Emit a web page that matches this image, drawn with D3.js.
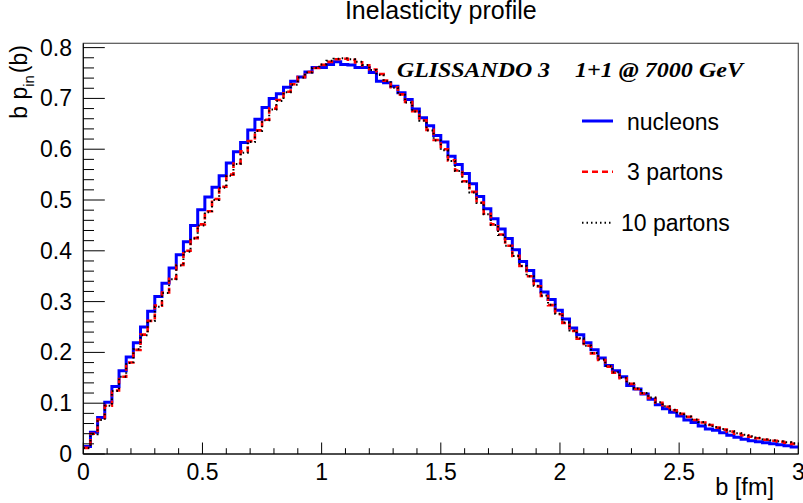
<!doctype html>
<html>
<head>
<meta charset="utf-8">
<title>Inelasticity profile</title>
<script type="text/javascript" src="https://d3js.org/d3.v7.min.js"></script>
<style>
  body { margin: 0; background: #fff; }
  text { font-family: "Liberation Sans", Arial, sans-serif; fill: #000; }
</style>
</head>
<body>
<script type="text/javascript">

    // histogram binning: 100 bins on b = 0 .. 3 fm
    var nBins = 100;
    var bMin = 0, bMax = 3;
    var yTop = 0.8085;

    // b p_in(b), read bin by bin from the picture
    var nucleons = [
        0.015, 0.043, 0.072, 0.102, 0.133, 0.164, 0.191, 0.219, 0.250, 0.281,
        0.310, 0.336, 0.366, 0.392, 0.418, 0.450, 0.481, 0.506, 0.525, 0.548,
        0.573, 0.595, 0.613, 0.638, 0.659, 0.682, 0.700, 0.709, 0.722, 0.734,
        0.742, 0.752, 0.761, 0.761, 0.767, 0.772, 0.767, 0.766, 0.761, 0.761,
        0.751, 0.734, 0.731, 0.724, 0.711, 0.698, 0.679, 0.662, 0.646, 0.627,
        0.614, 0.586, 0.570, 0.552, 0.532, 0.507, 0.483, 0.463, 0.443, 0.424,
        0.402, 0.379, 0.361, 0.341, 0.319, 0.304, 0.283, 0.266, 0.248, 0.235,
        0.219, 0.205, 0.189, 0.174, 0.164, 0.152, 0.135, 0.128, 0.118, 0.108,
        0.097, 0.089, 0.082, 0.075, 0.067, 0.062, 0.055, 0.049, 0.047, 0.042,
        0.037, 0.033, 0.029, 0.026, 0.024, 0.022, 0.020, 0.018, 0.016, 0.014
    ];
    var partons3 = [
        0.012, 0.040, 0.068, 0.095, 0.125, 0.152, 0.180, 0.205, 0.235, 0.262,
        0.292, 0.318, 0.345, 0.372, 0.400, 0.425, 0.452, 0.478, 0.502, 0.526,
        0.550, 0.572, 0.596, 0.616, 0.637, 0.658, 0.680, 0.697, 0.713, 0.728,
        0.742, 0.752, 0.760, 0.766, 0.772, 0.777, 0.778, 0.776, 0.771, 0.765,
        0.757, 0.748, 0.735, 0.722, 0.708, 0.693, 0.675, 0.657, 0.638, 0.618,
        0.600, 0.578, 0.558, 0.537, 0.516, 0.495, 0.473, 0.452, 0.432, 0.410,
        0.390, 0.370, 0.350, 0.330, 0.311, 0.293, 0.275, 0.258, 0.242, 0.227,
        0.213, 0.198, 0.185, 0.172, 0.160, 0.149, 0.138, 0.128, 0.119, 0.110,
        0.101, 0.093, 0.086, 0.079, 0.073, 0.067, 0.062, 0.057, 0.052, 0.048,
        0.044, 0.040, 0.037, 0.034, 0.031, 0.028, 0.026, 0.024, 0.022, 0.020
    ];
    var partons10 = [
        0.012, 0.039, 0.067, 0.095, 0.124, 0.152, 0.179, 0.206, 0.234, 0.262,
        0.290, 0.317, 0.344, 0.371, 0.398, 0.424, 0.450, 0.476, 0.500, 0.524,
        0.548, 0.571, 0.593, 0.614, 0.636, 0.657, 0.678, 0.695, 0.712, 0.727,
        0.741, 0.751, 0.760, 0.767, 0.774, 0.778, 0.779, 0.777, 0.772, 0.766,
        0.756, 0.746, 0.734, 0.721, 0.707, 0.692, 0.674, 0.656, 0.637, 0.617,
        0.598, 0.577, 0.557, 0.536, 0.515, 0.494, 0.472, 0.451, 0.431, 0.410,
        0.390, 0.370, 0.350, 0.331, 0.312, 0.294, 0.276, 0.259, 0.243, 0.228,
        0.213, 0.199, 0.186, 0.173, 0.161, 0.150, 0.139, 0.129, 0.120, 0.111,
        0.102, 0.094, 0.087, 0.080, 0.074, 0.068, 0.063, 0.058, 0.053, 0.049,
        0.045, 0.041, 0.038, 0.035, 0.032, 0.029, 0.027, 0.025, 0.023, 0.021
    ];

    var xTicks = [0, 0.5, 1, 1.5, 2, 2.5, 3];
    var xTickLabels = ["0", "0.5", "1", "1.5", "2", "2.5", "3"];
    var yTicks = [0, 0.1, 0.2, 0.3, 0.4, 0.5, 0.6, 0.7, 0.8];
    var yTickLabels = ["0", "0.1", "0.2", "0.3", "0.4", "0.5", "0.6", "0.7", "0.8"];

    var seriesNames = ["nucleons", "3 partons", "10 partons"];

    var width = 803, height = 503;
    // plot frame in pixels ("top" is taken by window.top, so use a prefix)
    var padL = 83.3, padR = 798.3, padT = 43.3, padB = 454;

    var x = d3.scaleLinear().domain([bMin, bMax]).range([padL, padR]);
    var y = d3.scaleLinear().domain([0, yTop]).range([padB, padT]);

    var svg = d3.select("body")
        .append("svg")
        .attr("width", width)
        .attr("height", height);

    // title
    svg.append("text")
        .attr("x", (padL + padR) / 2)
        .attr("y", 18.5)
        .style("text-anchor", "middle")
        .style("font-size", "25px")
        .text("Inelasticity profile");

    // frame
    svg.append("rect")
        .attr("x", padL)
        .attr("y", padT)
        .attr("width", padR - padL)
        .attr("height", padB - padT)
        .attr("fill", "none")
        .attr("stroke", "#555")
        .attr("stroke-width", 1.2);

    // histogram as steps
    var binW = (bMax - bMin) / nBins;
    function stepPoints(vals) {
        var pts = vals.map(function(v, i) { return [bMin + i * binW, v]; });
        pts.push([bMax, vals[vals.length - 1]]);
        return pts;
    }
    var line = d3.line()
        .x(function(d) { return x(d[0]); })
        .y(function(d) { return y(d[1]); })
        .curve(d3.curveStepAfter);

    var styles = [
        { data: nucleons, color: "#0000ff", w: 3, dash: null },
        { data: partons3, color: "#ff0000", w: 2.6, dash: "6,4" },
        { data: partons10, color: "#000000", w: 2, dash: "1.5,3" }
    ];

    styles.forEach(function(s) {
        svg.append("path")
            .attr("d", line(stepPoints(s.data)))
            .attr("fill", "none")
            .attr("stroke", s.color)
            .attr("stroke-width", s.w)
            .attr("stroke-dasharray", s.dash);
    });

    // x axis: ticks go up from the bottom
    var xAxis = svg.append("g");
    xAxis.append("line")
        .attr("x1", padL).attr("x2", padR)
        .attr("y1", padB).attr("y2", padB)
        .attr("stroke", "#000");
    var xMinor = d3.range(0, 31).map(function(i) { return i * 0.1; });
    xAxis.selectAll(".xminor")
        .data(xMinor)
        .enter()
        .append("line")
        .attr("x1", function(d) { return x(d); })
        .attr("x2", function(d) { return x(d); })
        .attr("y1", padB)
        .attr("y2", function(d, i) { return padB - (i % 5 == 0 ? 11.5 : 5.8); })
        .attr("stroke", "#000");
    xAxis.selectAll(".xlab")
        .data(xTicks)
        .enter()
        .append("text")
        .attr("x", function(d) { return x(d); })
        .attr("y", 480)
        .style("text-anchor", "middle")
        .style("font-size", "23px")
        .text(function(d, i) { return xTickLabels[i]; });
    xAxis.append("text")
        .attr("x", 774)
        .attr("y", 495)
        .style("text-anchor", "end")
        .style("font-size", "23.5px")
        .text("b [fm]");

    // y axis: ticks go right from the left edge
    var yAxis = svg.append("g");
    yAxis.append("line")
        .attr("x1", padL).attr("x2", padL)
        .attr("y1", padB).attr("y2", padT)
        .attr("stroke", "#000");
    var yMinor = d3.range(0, 41).map(function(i) { return i * 0.02; });
    yAxis.selectAll(".yminor")
        .data(yMinor)
        .enter()
        .append("line")
        .attr("x1", padL)
        .attr("x2", function(d, i) { return padL + (i % 5 == 0 ? 21.5 : 10.7); })
        .attr("y1", function(d) { return y(d); })
        .attr("y2", function(d) { return y(d); })
        .attr("stroke", "#000");
    yAxis.selectAll(".ylab")
        .data(yTicks)
        .enter()
        .append("text")
        .attr("x", 72)
        .attr("y", function(d) { return y(d) + 8; })
        .style("text-anchor", "end")
        .style("font-size", "23px")
        .text(function(d, i) { return yTickLabels[i]; });

    var ylab = svg.append("text")
        .attr("transform", "translate(27,45) rotate(-90)")
        .style("text-anchor", "end")
        .style("font-size", "23px");
    ylab.append("tspan").text("b p");
    ylab.append("tspan")
        .attr("dy", 7)
        .style("font-size", "15px")
        .text("in");
    ylab.append("tspan")
        .attr("dy", -7)
        .attr("dx", 2)
        .text("(b)");

    // GLISSANDO label
    var glis = [
        { x: 397, len: 153, txt: "GLISSANDO 3" },
        { x: 575, len: 168, txt: "1+1 @ 7000 GeV" }
    ];
    glis.forEach(function(g) {
        svg.append("text")
            .attr("x", g.x)
            .attr("y", 77)
            .attr("textLength", g.len)
            .attr("lengthAdjust", "spacingAndGlyphs")
            .style("font-family", "'Liberation Serif', 'Times New Roman', serif")
            .style("font-weight", "bold")
            .style("font-style", "italic")
            .style("font-size", "21px")
            .text(g.txt);
    });

    // legend
    var legY = [121, 171.7, 222.7];
    var legTextX = [627, 627, 621];
    styles.forEach(function(s, i) {
        svg.append("line")
            .attr("x1", 582).attr("x2", 613)
            .attr("y1", legY[i]).attr("y2", legY[i])
            .attr("stroke", s.color)
            .attr("stroke-width", s.w)
            .attr("stroke-dasharray", s.dash);
        svg.append("text")
            .attr("x", legTextX[i])
            .attr("y", legY[i] + 8.5)
            .style("font-size", "23px")
            .text(seriesNames[i]);
    });

</script>
</body>
</html>
